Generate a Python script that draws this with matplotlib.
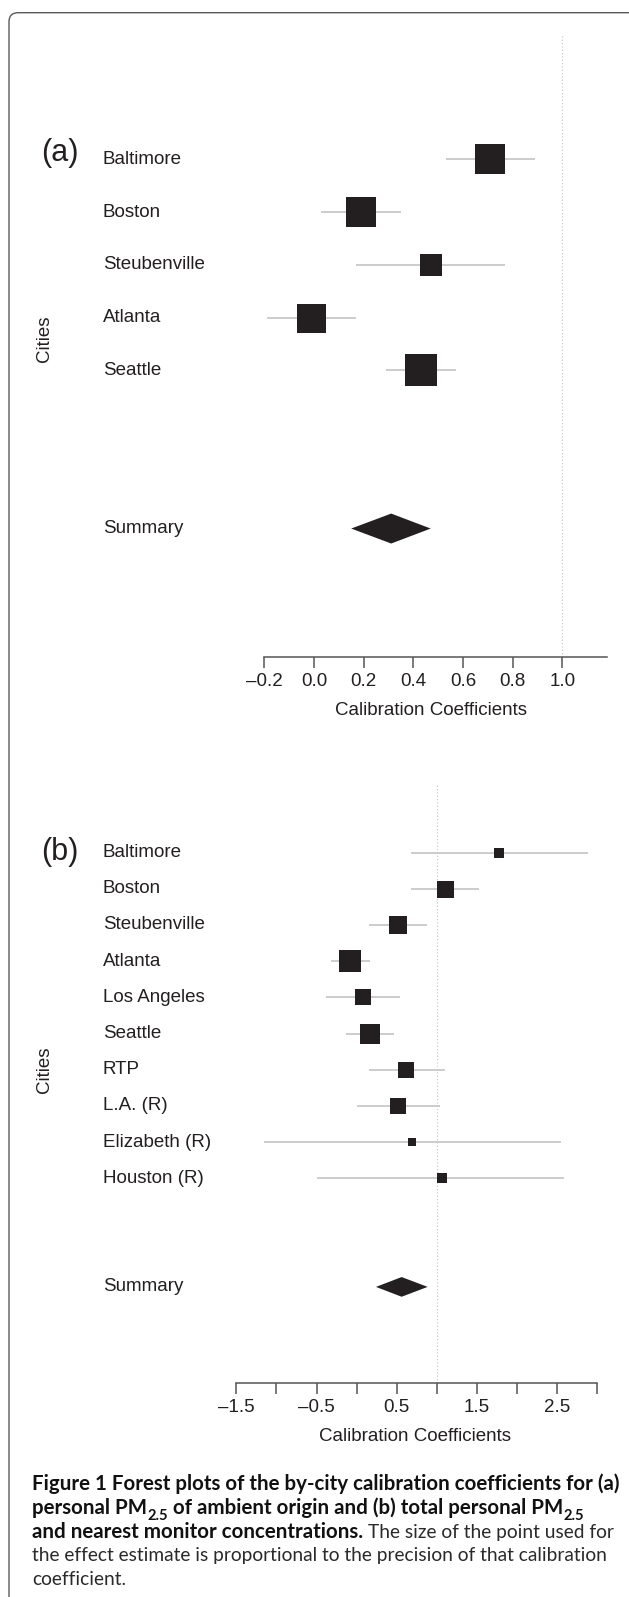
import matplotlib
matplotlib.use("Agg")
import matplotlib.pyplot as plt
from matplotlib.patches import Polygon, FancyBboxPatch
from matplotlib.transforms import blended_transform_factory
import numpy as np

# ---------------- data ----------------
cities_a = ["Baltimore", "Boston", "Steubenville", "Atlanta", "Seattle"]
est_a = [0.71, 0.19, 0.47, -0.01, 0.43]
lo_a = [0.53, 0.03, 0.17, -0.19, 0.29]
hi_a = [0.89, 0.35, 0.77, 0.17, 0.57]
prec_a = [29.2, 30.7, 22.7, 29.0, 32.5]          # box side ~ precision
summary_a = [0.311, 0.150, 0.470]                # estimate, lower, upper
ticks_a = [-0.2, 0.0, 0.2, 0.4, 0.6, 0.8, 1.0]
ticklabels_a = ["\u20130.2", "0.0", "0.2", "0.4", "0.6", "0.8", "1.0"]

cities_b = ["Baltimore", "Boston", "Steubenville", "Atlanta", "Los Angeles",
            "Seattle", "RTP", "L.A. (R)", "Elizabeth (R)", "Houston (R)"]
est_b = [1.78, 1.10, 0.52, -0.08, 0.08, 0.17, 0.62, 0.52, 0.69, 1.06]
lo_b = [0.68, 0.68, 0.15, -0.32, -0.38, -0.13, 0.15, 0.00, -1.16, -0.49]
hi_b = [2.89, 1.52, 0.88, 0.17, 0.54, 0.47, 1.10, 1.04, 2.55, 2.59]
prec_b = [10.5, 17.0, 18.3, 22.0, 16.5, 19.8, 16.2, 15.5, 8.5, 9.3]
summary_b = [0.561, 0.241, 0.885]
ticks_b = [-1.5, -1.0, -0.5, 0.0, 0.5, 1.0, 1.5, 2.0, 2.5, 3.0]
ticklabels_b = ["\u20131.5", "", "\u20130.5", "", "0.5", "", "1.5", "", "2.5", ""]

ref_line = 1.0

caption_lines = [
    [("Figure 1 Forest plots of the by-city calibration coefficients for (a)", "b")],
    [("personal PM", "b"), ("2.5", "bs"), (" of ambient origin and (b) total personal PM", "b"), ("2.5", "bs")],
    [("and nearest monitor concentrations.", "b"), (" The size of the point used for", "r")],
    [("the effect estimate is proportional to the precision of that calibration", "r")],
    [("coefficient.", "r")],
]

# ---------------- figure ----------------
W, H, DPI = 629, 1597, 100
plt.rcParams['font.family'] = ['Liberation Sans', 'DejaVu Sans']
fig = plt.figure(figsize=(W / DPI, H / DPI), dpi=DPI)
fig.patch.set_facecolor('white')

overlay = fig.add_axes([0, 0, 1, 1])
overlay.set_xlim(0, W)
overlay.set_ylim(H, 0)
overlay.axis('off')

DARK = '#231f20'
GRAY_AX = '#555555'
CI_COL = '#c8c8c8'
FS = 13.5

# frame
overlay.add_patch(FancyBboxPatch((9, 12.7), W + 40, H + 40,
                                 boxstyle="round,pad=0,rounding_size=9",
                                 fill=False, ec='#5a5a5a', lw=1.0))


def px_axes(left, right, top, bottom):
    ax = fig.add_axes([left / W, 1 - bottom / H, (right - left) / W, (bottom - top) / H])
    ax.patch.set_visible(False)
    return ax


def panel(ax, cities, est, lo, hi, prec, summ, xlim, ticks, ticklabels,
          row_top, row_bot, half_h, letter, letter_y, cities_y):
    rows = np.arange(len(cities))
    srow = len(cities) + 2
    ax.set_xlim(*xlim)
    ax.set_ylim(row_bot, row_top)
    ax.axvline(ref_line, color='#c4c4c4', ls=(0, (1, 2)), lw=0.8, zorder=1)
    ax.hlines(rows, lo, hi, color=CI_COL, lw=1.3, zorder=2)
    for r, e, p in zip(rows, est, prec):
        ax.plot([e], [r], marker='s', ms=p * 72 / DPI, color=DARK, mew=0,
                ls='none', zorder=3)
    e, l, h = summ
    ax.add_patch(Polygon([(l, srow), (e, srow - half_h), (h, srow), (e, srow + half_h)],
                         closed=True, fc=DARK, ec='none', zorder=3))
    for s in ['top', 'left', 'right']:
        ax.spines[s].set_visible(False)
    ax.spines['bottom'].set_color(GRAY_AX)
    ax.spines['bottom'].set_linewidth(1.1)
    ax.set_yticks([])
    ax.set_xticks(ticks)
    ax.set_xticklabels(ticklabels)
    ax.tick_params(axis='x', direction='out', length=8, width=1.1, color=GRAY_AX,
                   pad=3.5, labelsize=FS, labelcolor=DARK)
    trans = blended_transform_factory(overlay.transData, ax.transData)
    for r, c in zip(rows, cities):
        overlay.text(102.7, r, c, transform=trans, ha='left', va='center',
                     fontsize=FS, color=DARK)
    overlay.text(102.7, srow, "Summary", transform=trans, ha='left', va='center',
                 fontsize=FS, color=DARK)
    overlay.text(40.7, letter_y, letter, ha='left', va='center', fontsize=22, color=DARK)
    overlay.text(45, cities_y, "Cities", rotation=90, ha='center', va='center',
                 fontsize=FS, color=DARK)
    return ax


# panel (a): rows at 159.3 px, spacing 52.75 px
ax_a = px_axes(264.3, 607.0, 35.0, 656.7)
panel(ax_a, cities_a, est_a, lo_a, hi_a, prec_a, summary_a, (-0.2, 1.18),
      ticks_a, ticklabels_a, -(159.3 - 35.0) / 52.75, (656.7 - 159.3) / 52.75,
      0.284, "(a)", 153, 339)
overlay.text(431, 710.7, "Calibration Coefficients", ha='center', va='center',
             fontsize=FS, color=DARK)

# panel (b): rows at 852.5 px, spacing 36.2 px
ax_b = px_axes(236.3, 597.3, 784.0, 1382.7)
panel(ax_b, cities_b, est_b, lo_b, hi_b, prec_b, summary_b, (-1.5, 3.0),
      ticks_b, ticklabels_b, -(852.5 - 784.0) / 36.2, (1382.7 - 852.5) / 36.2,
      0.272, "(b)", 851.7, 1070)
overlay.text(415, 1436.7, "Calibration Coefficients", ha='center', va='center',
             fontsize=FS, color=DARK)

# ---------------- caption ----------------
fig.canvas.draw()
renderer = fig.canvas.get_renderer()
CAP_FONT = ['Lato', 'DejaVu Sans']


def style_kw(style, fs_b, fs_r):
    kw = dict(family=CAP_FONT)
    if style.startswith('b'):
        kw.update(weight='bold', color='#111111', fontsize=fs_b)
    else:
        kw.update(weight='normal', color='#2a2a2a', fontsize=fs_r)
    if style.endswith('s'):
        kw['fontsize'] = kw['fontsize'] * 0.72
    return kw


def text_w(s, kw):
    t = overlay.text(0, 0, s, **kw)
    w = t.get_window_extent(renderer).width
    t.remove()
    return w


def space_w(kw):
    return text_w("a a", kw) - text_w("aa", kw)


# fit bold face to line 1 width and regular face to line 4 width
wb = text_w(caption_lines[0][0][0], style_kw('b', 12, 12))
fs_b = 12 * (615 - 32.3) / wb
wr = text_w(caption_lines[3][0][0], style_kw('r', 12, 12))
fs_r = 12 * (605 - 32.3) / wr

baselines = [1490, 1513.8, 1537.6, 1561.4, 1585.2]
for line, base in zip(caption_lines, baselines):
    x = 32.3
    for s, style in line:
        kw = style_kw(style, fs_b, fs_r)
        if s.startswith(" "):
            x += space_w(kw)
            s = s.lstrip(" ")
        y = base + (kw['fontsize'] * 0.42 * DPI / 72 if style.endswith('s') else 0)
        t = overlay.text(x, y, s, ha='left', va='baseline', **kw)
        x += t.get_window_extent(renderer).width

fig.savefig("out.png", dpi=DPI, facecolor='white')
